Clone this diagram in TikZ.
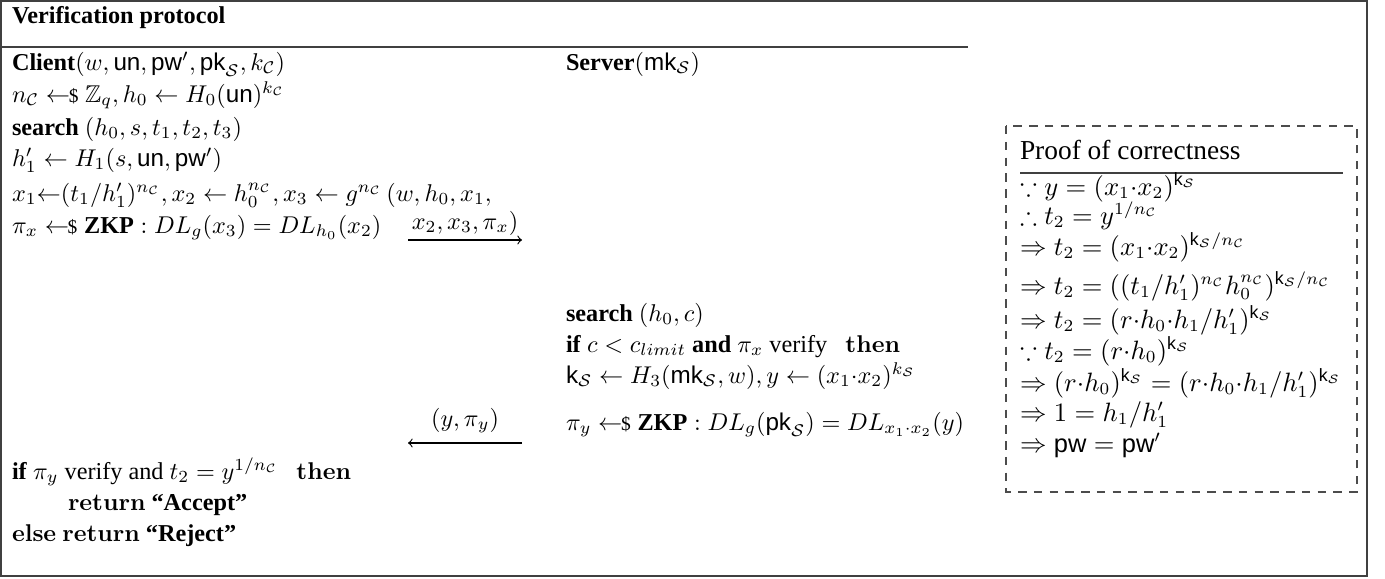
\documentclass[tikz,border=0pt]{standalone}
\usepackage{amsmath,amssymb}
\usepackage[no-math]{fontspec}
\setmainfont{Liberation Serif}
\newfontfamily\helv{Liberation Sans}
\newcommand{\msf}[1]{\text{\helv #1}}
\newcommand{\smp}{\mathrel{\leftarrow\!\!\text{\footnotesize\$}}}
\newcommand{\cS}{\mathcal{S}}
\newcommand{\cC}{\mathcal{C}}
\begin{document}
\begin{tikzpicture}[x=0.4125pt,y=-0.4125pt,
  txt/.style={anchor=base west,inner sep=0pt,outer sep=0pt},
  prf/.style={txt,font=\fontsize{10.5}{12.6}\selectfont},
  lbl/.style={anchor=base,inner sep=0pt,outer sep=0pt},
  frame/.style={draw=black!75,line width=0.6pt},
  msg/.style={->,line width=0.45pt},
  proofbox/.style={draw=black!70,line width=0.5pt,dash pattern=on 3.5pt off 3pt}]
\useasboundingbox (0,0) rectangle (1385,578);
\draw[frame] (1,1) rectangle (1367,576);
% title
\node[txt] (title) at (12,23) {\textbf{Verification protocol}};
\draw[frame] (1,47) -- (968,47);
% client column
\node[txt] (client) at (12,70) {\textbf{Client}$(w,\msf{un},\msf{pw}',\msf{pk}_{\cS},k_{\cC})$};
\node[txt] (c1) at (12,102) {$n_{\cC}\smp\mathbb{Z}_q, h_0\leftarrow H_0(\msf{un})^{k_{\cC}}$};
\node[txt] (c2) at (12,135) {\textbf{search} $(h_0,s,t_1,t_2,t_3)$};
\node[txt] (c3) at (12,166) {$h_1'\leftarrow H_1(s,\msf{un},\msf{pw}')$};
\node[txt] (c4) at (12,201) {$x_1{\leftarrow}(t_1/h_1')^{n_{\cC}}, x_2\leftarrow h_0^{n_{\cC}}, x_3\leftarrow g^{n_{\cC}}\,(w,h_0,x_1,$};
\node[txt] (c5) at (12,233) {$\pi_x\smp\textbf{ZKP}:DL_g(x_3)=DL_{h_0}(x_2)$};
% message 1
\coordinate (m1s) at (408,240);
\coordinate (m1e) at (522,240);
\draw[msg] (m1s) -- (m1e);
\node[lbl] (m1l) at (465,229) {$x_2,x_3,\pi_x)$};
% server column
\node[txt] (server) at (566,70) {\textbf{Server}$(\msf{mk}_{\cS})$};
\node[txt] (s1) at (566,321) {\textbf{search} $(h_0,c)$};
\node[txt] (s2) at (566,352) {\textbf{if} $c<c_{limit}$ \textbf{and} $\pi_x$ verify $\ \ \mathbf{then}$};
\node[txt] (s3) at (566,383) {$\msf{k}_{\cS}\leftarrow H_3(\msf{mk}_{\cS},w), y\leftarrow(x_1{\cdot}x_2)^{k_{\cS}}$};
\node[txt] (s4) at (566,430) {$\pi_y\smp\textbf{ZKP}:DL_g(\msf{pk}_{\cS})=DL_{x_1\cdot x_2}(y)$};
% message 2
\coordinate (m2s) at (522,443);
\coordinate (m2e) at (408,443);
\draw[msg] (m2s) -- (m2e);
\node[lbl] (m2l) at (465,426) {$(y,\pi_y)$};
% final
\node[txt] (f1) at (12,479) {\textbf{if} $\pi_y$ verify and $t_2=y^{1/n_{\cC}}$ $\ \ \mathbf{then}$};
\node[txt] (f2) at (68,510) {$\mathbf{return}$ \textbf{``Accept''}};
\node[txt] (f3) at (12,541) {$\mathbf{else\ return}$ \textbf{``Reject''}};
% proof box
\draw[proofbox] (1006,126) rectangle (1357,492);
\node[txt] (ptitle) at (1020,159) {\fontsize{11.3}{13.5}\selectfont Proof of correctness};
\draw[line width=0.5pt,draw=black!75] (1020,173) -- (1343,173);
\node[prf] (p1) at (1020,195) {$\because y=(x_1{\cdot}x_2)^{\msf{k}_{\cS}}$};
\node[prf] (p2) at (1020,224) {$\therefore t_2=y^{1/n_{\cC}}$};
\node[prf] (p3) at (1020,255) {$\Rightarrow t_2=(x_1{\cdot}x_2)^{\msf{k}_{\cS}/n_{\cC}}$};
\node[prf] (p4) at (1020,294) {$\Rightarrow t_2=((t_1/h_1')^{n_{\cC}}h_0^{n_{\cC}})^{\msf{k}_{\cS}/n_{\cC}}$};
\node[prf] (p5) at (1020,328) {$\Rightarrow t_2=(r{\cdot}h_0{\cdot}h_1/h_1')^{\msf{k}_{\cS}}$};
\node[prf] (p6) at (1020,359) {$\because t_2=(r{\cdot}h_0)^{\msf{k}_{\cS}}$};
\node[prf] (p7) at (1020,391) {$\Rightarrow (r{\cdot}h_0)^{\msf{k}_{\cS}}=(r{\cdot}h_0{\cdot}h_1/h_1')^{\msf{k}_{\cS}}$};
\node[prf] (p8) at (1020,421) {$\Rightarrow 1=h_1/h_1'$};
\node[prf] (p9) at (1020,452) {$\Rightarrow \msf{pw}=\msf{pw}'$};
\end{tikzpicture}
\end{document}
